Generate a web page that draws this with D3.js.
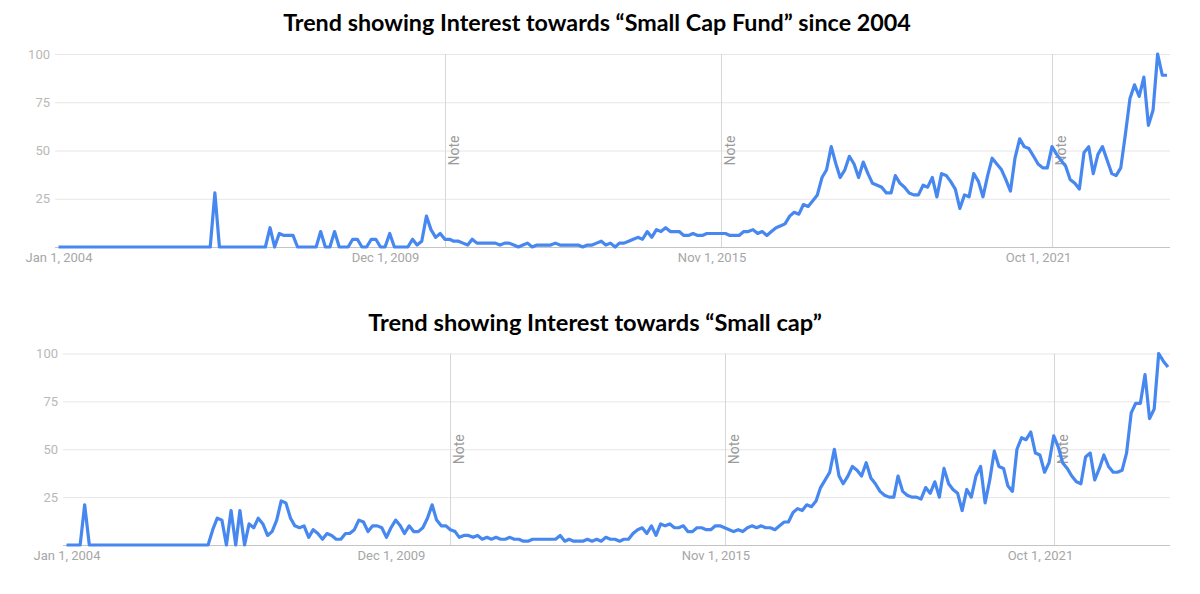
<!DOCTYPE html>
<html>
<head>
<meta charset="utf-8">
<script src="https://cdn.jsdelivr.net/npm/d3@7"></script>
<style>
  html, body { margin: 0; padding: 0; background: #ffffff; }
  svg { display: block; }
</style>
</head>
<body>
<svg id="chart" width="1200" height="594"></svg>
<script>
// ---- data (monthly Google Trends interest, Jan 2004 onwards) ----
const startMonth = "2004-01-01";
const titleTop = "Trend showing Interest towards \u201cSmall Cap Fund\u201d since 2004";
const titleBottom = "Trend showing Interest towards \u201cSmall cap\u201d";
const yTicks = [25, 50, 75, 100];
const xTickDates = ["2004-01-01", "2009-12-01", "2015-11-01", "2021-10-01"];
const noteDates = ["2011-01-01", "2016-01-01", "2022-01-01"];

const smallCapFund = [
  0,0,0,0,0,0,0,0,0,0,
  0,0,0,0,0,0,0,0,0,0,
  0,0,0,0,0,0,0,0,0,0,
  0,0,0,0,28,0,0,0,0,0,
  0,0,0,0,0,0,10,0,7,6,
  6,6,0,0,0,0,0,8,0,0,
  8,0,0,0,4,4,0,0,4,4,
  0,0,7,0,0,0,0,4,1,3,
  16,9,5,7,4,4,3,3,2,1,
  4,2,2,2,2,2,1,2,2,1,
  0,1,2,0,1,1,1,1,2,1,
  1,1,1,1,0,1,1,2,3,1,
  2,0,2,2,3,4,5,4,8,5,
  9,8,10,8,8,8,6,6,7,6,
  6,7,7,7,7,7,6,6,6,8,
  8,9,7,8,6,8,10,11,12,16,
  18,17,22,21,24,27,36,40,52,43,
  36,40,47,43,36,44,38,33,32,31,
  28,28,37,33,31,28,27,27,32,31,
  36,26,38,37,34,30,20,27,26,38,
  34,26,37,46,43,40,35,29,46,56,
  52,51,47,43,41,41,52,48,45,42,
  35,33,30,49,52,38,48,52,45,38,
  37,41,58,77,84,78,88,63,71,100,
  89,89
];

const smallCap = [
  0,0,0,0,21,0,0,0,0,0,
  0,0,0,0,0,0,0,0,0,0,
  0,0,0,0,0,0,0,0,0,0,
  0,0,8,14,13,0,18,0,18,0,
  11,9,14,11,5,7,13,23,22,14,
  10,9,10,4,8,6,3,6,5,3,
  3,6,6,8,13,12,7,10,10,9,
  4,9,13,10,6,10,7,7,9,14,
  21,13,10,10,8,7,4,5,5,4,
  5,3,4,3,4,3,3,4,3,3,
  2,2,3,3,3,3,3,3,5,2,
  3,2,2,2,3,2,3,2,4,3,
  3,2,3,3,6,8,9,6,10,5,
  11,10,11,9,9,10,7,7,9,9,
  8,8,10,10,9,8,7,8,7,9,
  10,9,10,9,9,8,10,12,12,17,
  19,18,21,20,23,30,34,38,50,36,
  32,36,41,39,36,43,35,32,28,26,
  25,25,36,28,26,25,25,24,30,27,
  33,25,40,32,29,27,18,29,25,36,
  41,22,34,49,41,40,31,28,50,56,
  55,59,48,47,38,43,57,51,43,40,
  36,33,32,46,48,34,40,47,41,38,
  38,39,48,69,74,74,89,66,71,100,
  96,93
];

// ---- drawing ----
const svg = d3.select("#chart");
svg.append("rect").attr("width", 1200).attr("height", 594).attr("fill", "#ffffff");

const parse = d3.utcParse("%Y-%m-%d");
const fmt = d3.utcFormat("%b %-d, %Y");
const t0 = parse(startMonth);

function drawTitle(text, cx, baseline, targetWidth) {
  const t = svg.append("text")
    .attr("x", cx).attr("y", baseline)
    .attr("text-anchor", "middle")
    .attr("font-family", "Lato, 'Open Sans', sans-serif")
    .attr("font-weight", 700)
    .attr("font-size", 22)
    .attr("fill", "#000000")
    .text(text);
  const w = t.node().getComputedTextLength();
  t.attr("font-size", (22 * targetWidth / w).toFixed(2));
}

function drawPanel(values, cfg) {
  const dates = values.map((v, i) => d3.utcMonth.offset(t0, i));
  const x = d3.scaleUtc()
    .domain([dates[0], dates[dates.length - 1]])
    .range([cfg.x0, cfg.x1]);
  const y = d3.scaleLinear().domain([0, 100]).range([cfg.yBase, cfg.yTop]);

  const g = svg.append("g");

  // horizontal gridlines + y labels
  const yAxis = d3.axisLeft(y)
    .tickValues(yTicks)
    .tickSize(-(cfg.gridEnd - cfg.gridStart))
    .tickPadding(5);
  const ya = g.append("g")
    .attr("transform", `translate(${cfg.gridStart},0)`)
    .call(yAxis);
  ya.select(".domain").remove();
  ya.selectAll(".tick line").attr("stroke", "#e6e6e6").attr("stroke-width", 1);
  ya.selectAll(".tick text")
    .attr("fill", "#b8b8b8")
    .attr("font-family", "Roboto, sans-serif")
    .attr("font-size", 13);

  // note vertical lines
  noteDates.forEach(d => {
    const xx = Math.round(x(parse(d))) + 0.5;
    g.append("line")
      .attr("x1", xx).attr("x2", xx)
      .attr("y1", cfg.yTop).attr("y2", cfg.yBase)
      .attr("stroke", "#d6d6d6").attr("stroke-width", 1);
    g.append("text")
      .attr("transform", `translate(${xx + 13},${y(50)}) rotate(-90)`)
      .attr("text-anchor", "middle")
      .attr("font-family", "Roboto, sans-serif")
      .attr("font-size", 14)
      .attr("fill", "#9a9a9a")
      .text("Note");
  });

  // x axis baseline + labels
  const xAxis = d3.axisBottom(x)
    .tickValues(xTickDates.map(parse))
    .tickFormat(fmt)
    .tickSize(0)
    .tickPadding(6);
  const xa = g.append("g")
    .attr("transform", `translate(0,${cfg.yBase})`)
    .call(xAxis);
  xa.select(".domain").remove();
  xa.selectAll(".tick text")
    .attr("fill", "#a6a6a6")
    .attr("font-family", "Roboto, sans-serif")
    .attr("font-size", 13);
  g.append("line")
    .attr("x1", cfg.gridStart).attr("x2", cfg.gridEnd)
    .attr("y1", cfg.yBase + 0.5).attr("y2", cfg.yBase + 0.5)
    .attr("stroke", "#c4c4c4").attr("stroke-width", 1);

  // series line
  const line = d3.line()
    .x((d, i) => x(dates[i]))
    .y(d => y(d));
  g.append("path")
    .datum(values)
    .attr("d", line)
    .attr("fill", "none")
    .attr("stroke", "#4787f0")
    .attr("stroke-width", 3.2)
    .attr("stroke-linejoin", "round")
    .attr("stroke-linecap", "butt");
}

drawTitle(titleTop, 597, 31, 628);
drawTitle(titleBottom, 595, 331, 454);

drawPanel(smallCapFund, { x0: 58.5, x1: 1167, gridStart: 55, gridEnd: 1170, yBase: 247, yTop: 54 });
drawPanel(smallCap, { x0: 66.5, x1: 1168, gridStart: 63, gridEnd: 1170, yBase: 545, yTop: 353.5 });
</script>
</body>
</html>
